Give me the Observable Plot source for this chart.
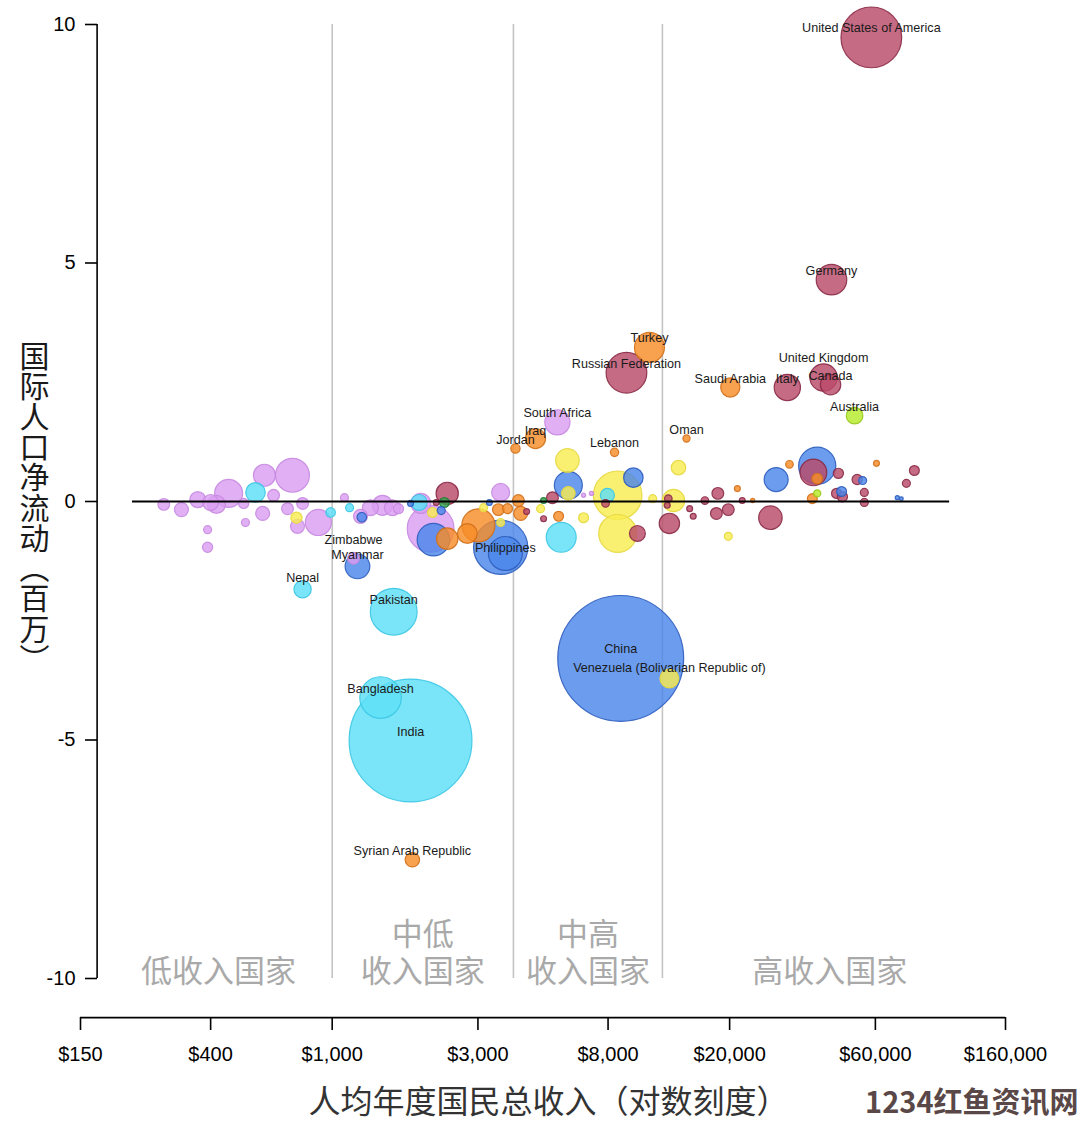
<!DOCTYPE html>
<html>
<head>
<meta charset="utf-8">
<script src="https://cdn.jsdelivr.net/npm/d3@7"></script>
<script src="https://cdn.jsdelivr.net/npm/@observablehq/plot@0.6"></script>
<style>
  html, body { margin: 0; padding: 0; background: #fff; }
  svg { display: block; }
</style>
</head>
<body>
<div id="chart"></div>
<script>
// ---------- data: [country label, GNI per capita (US$), net migration (millions), population (millions)]
const europeNorthAmerica = [
  ["United States of America", 58200, 9.73, 320],
  ["Germany", 43100, 4.65, 81],
  ["Russian Federation", 9190, 2.70, 144],
  ["Italy", 30900, 2.39, 60],
  ["United Kingdom", 40600, 2.60, 65],
  ["Canada", 42800, 2.45, 36],
  ["", 37600, 0.61, 62],
  ["", 27200, -0.34, 48],
  ["", 2380, 0.17, 43],
  ["", 2190, -0.02, 3],
  ["", 4330, -0.21, 3],
  ["", 5260, 0.08, 12],
  ["", 4920, -0.36, 3],
  ["", 7850, -0.04, 5],
  ["", 9980, -0.67, 22],
  ["", 12600, 0.06, 5],
  ["", 12500, -0.08, 3],
  ["", 12700, -0.46, 36],
  ["", 14800, -0.15, 3],
  ["", 15200, -0.31, 3],
  ["", 16600, 0.02, 5],
  ["", 18300, 0.17, 12],
  ["", 18100, -0.25, 12],
  ["", 19800, -0.17, 12],
  ["", 22000, 0.02, 3],
  ["", 45400, 0.59, 9],
  ["", 44800, 0.17, 9],
  ["", 46800, 0.10, 9],
  ["", 52300, 0.46, 9],
  ["", 55200, 0.19, 5.5],
  ["", 55200, -0.02, 5.5],
  ["", 75800, 0.38, 5.5],
  ["", 80500, 0.65, 8.5]
];
const middleEastNorthAfrica = [
  ["Turkey", 10930, 3.23, 78],
  ["Saudi Arabia", 20100, 2.39, 32],
  ["Oman", 14450, 1.32, 4.5],
  ["Lebanon", 8400, 1.03, 6],
  ["Iraq", 4630, 1.32, 35],
  ["Jordan", 3980, 1.11, 7.5],
  ["Syrian Arab Republic", 1830, -7.51, 18],
  ["", 2380, -0.78, 40],
  ["", 3010, -0.50, 95],
  ["", 2770, -0.67, 34],
  ["", 3500, -0.17, 12],
  ["", 3750, -0.15, 8.5],
  ["", 4070, 0.02, 12],
  ["", 4140, -0.25, 17],
  ["", 5510, -0.31, 8.5],
  ["", 21200, 0.27, 3],
  ["", 23800, 0.02, 1.5],
  ["", 31400, 0.78, 5],
  ["", 38700, 0.48, 10],
  ["", 37300, 0.06, 8.5],
  ["", 60500, 0.80, 3]
];
const subSaharanAfrica = [
  ["South Africa", 5460, 1.66, 55],
  ["Zimbabwe", 1175, -1.19, 12],
  ["", 281, -0.06, 12],
  ["", 321, -0.17, 17],
  ["", 363, 0.04, 22],
  ["", 400, -0.02, 22],
  ["", 418, -0.06, 28],
  ["", 458, 0.17, 68],
  ["", 513, -0.04, 9],
  ["", 600, 0.55, 42],
  ["", 741, 0.55, 100],
  ["", 643, 0.13, 12],
  ["", 592, -0.25, 17],
  ["", 520, -0.44, 5.5],
  ["", 391, -0.59, 5.5],
  ["", 391, -0.96, 9],
  ["", 714, -0.15, 12],
  ["", 800, -0.04, 12],
  ["", 770, -0.52, 17],
  ["", 901, -0.44, 59],
  ["", 1097, 0.08, 5.5],
  ["", 1238, -0.31, 17],
  ["", 1334, -0.13, 22],
  ["", 1461, -0.08, 35],
  ["", 1575, -0.13, 22],
  ["", 1648, -0.15, 9],
  ["", 1950, -0.04, 35],
  ["", 2100, -0.57, 190],
  ["", 3560, 0.19, 28],
  ["", 6650, 0.13, 1.5],
  ["", 7060, 0.17, 1.5]
];
const southAsia = [
  ["India", 1805, -5.01, 1310],
  ["Pakistan", 1590, -2.31, 190],
  ["Bangladesh", 1440, -4.11, 150],
  ["Nepal", 800, -1.84, 26],
  ["", 561, 0.19, 33],
  ["", 988, -0.23, 8],
  ["", 1140, -0.13, 5.5],
  ["", 1926, -0.02, 22],
  ["", 5620, -0.75, 78],
  ["", 7960, 0.13, 17]
];
const eastAsiaPacific = [
  ["China", 8800, -3.29, 1376],
  ["Philippines", 3690, -1.09, 100],
  ["", 3560, -0.96, 255],
  ["Myanmar", 1210, -1.36, 53],
  ["", 2145, -0.80, 92],
  ["", 2275, -0.19, 5.5],
  ["", 1805, -0.04, 3],
  ["", 3270, -0.02, 3],
  ["", 5930, 0.34, 68],
  ["", 9680, 0.50, 33],
  ["", 28400, 0.46, 50],
  ["", 38700, 0.75, 120],
  ["", 46500, 0.21, 8.5],
  ["", 54500, 0.44, 5.5],
  ["", 70800, 0.08, 1.5],
  ["", 73000, 0.06, 1.2],
  ["", 1250, -0.33, 8]
];
const latinAmerica = [
  ["Venezuela (Bolivarian Republic of)", 12700, -3.71, 31],
  ["", 764, -0.34, 11],
  ["", 2130, -0.23, 8.5],
  ["", 3130, -0.13, 5.5],
  ["", 3560, -0.44, 5.5],
  ["", 5890, 0.86, 48],
  ["", 5930, 0.17, 16],
  ["", 8600, 0.13, 205],
  ["", 8600, -0.67, 125],
  ["", 6650, -0.34, 8.5],
  ["", 4810, -0.15, 5.5],
  ["", 11200, 0.06, 5.5],
  ["", 13100, 0.02, 43],
  ["", 13600, 0.71, 18],
  ["", 19800, -0.73, 5.5]
];
const oceania = [
  ["Australia", 51300, 1.80, 24],
  ["", 38700, 0.17, 4.5]
];
const other = [
  ["", 2330, -0.02, 8.5],
  ["", 4920, 0.02, 3]
];

const xTicks = [150, 400, 1000, 3000, 8000, 20000, 60000, 160000];
const yTicks = [-10, -5, 0, 5, 10];
const incomeBoundaries = [1000, 3920, 12050];
const incomeGroups = [
  {top: "", bottom: "低收入国家", lo: 180, hi: 1000},
  {top: "中低", bottom: "收入国家", lo: 1000, hi: 3920},
  {top: "中高", bottom: "收入国家", lo: 3920, hi: 12050},
  {top: "", bottom: "高收入国家", lo: 12050, hi: 150000}
];
const zeroLineExtent = [222, 105000];
const yAxisAtX = 170;      // x value where the y axis is drawn
const xAxisAtY = -10.82;   // y value where the x axis is drawn
const yTitle = "国际人口净流动（百万）";
const xTitle = "人均年度国民总收入（对数刻度）";
const watermark = "1234红鱼资讯网";

// ---------- styles
const regionStyle = {
  europe:   {fill: "#b94b69", stroke: "#8a2a46"},
  mena:     {fill: "#f68c28", stroke: "#d2701a"},
  ssa:      {fill: "#da9ef1", stroke: "#c68ae0"},
  sasia:    {fill: "#5ddff7", stroke: "#3cc6e4"},
  eap:      {fill: "#4a86ea", stroke: "#2c5cbc"},
  latam:    {fill: "#f8ec52", stroke: "#e6d840"},
  oceania:  {fill: "#b6ea2a", stroke: "#96c81c"},
  other:    {fill: "#33a04a", stroke: "#1f7a34"}
};
const groups = [
  ["europe", europeNorthAmerica], ["mena", middleEastNorthAfrica], ["ssa", subSaharanAfrica],
  ["sasia", southAsia], ["eap", eastAsiaPacific], ["latam", latinAmerica],
  ["oceania", oceania], ["other", other]
];
const rows = groups.flatMap(([region, arr]) =>
  arr.map(([name, gni, mig, pop]) => ({name, gni, mig, pop, region})));
const labeled = rows.filter(d => d.name);
const labelDy = {"United Kingdom": -20, "Zimbabwe": -18, "Philippines": -6, "Iraq": -8,
  "Myanmar": -11, "Nepal": -11, "Venezuela (Bolivarian Republic of)": -11, "Pakistan": -12};
const dyGroups = d3.group(labeled, d => labelDy[d.name] ?? -9);

const sans = "'Liberation Sans', Arial, Helvetica, sans-serif";
const cjk = "'Noto Sans CJK SC', 'Noto Sans', sans-serif";
const dollar = d => "$" + d3.format(",")(d);

const chart = Plot.plot({
  width: 1080,
  height: 1123,
  marginLeft: 97,
  marginRight: 75,
  marginTop: 24,
  marginBottom: 106,
  style: {fontFamily: sans, background: "#fff", color: "#000"},
  x: {type: "log", domain: [150, 160000], range: [80, 1005]},
  y: {domain: [-10, 10], range: [978, 24]},
  r: {domain: [0, 1400], range: [0, 63.5]},
  color: {type: "identity"},
  marks: [
    // income-group boundaries
    Plot.ruleX(incomeBoundaries, {y1: -10, y2: 10, stroke: "#c4c4c4", strokeWidth: 1.6}),
    // income-group labels
    Plot.text(incomeGroups, {x: d => Math.sqrt(d.lo * d.hi), y: -9.87, text: "bottom",
      fontFamily: cjk, fontSize: 31, fill: "#a9a9a9"}),
    Plot.text(incomeGroups, {x: d => Math.sqrt(d.lo * d.hi), y: -9.10, text: "top",
      fontFamily: cjk, fontSize: 31, fill: "#a9a9a9"}),
    // bubbles
    Plot.dot(rows, {x: "gni", y: "mig", r: "pop",
      fill: d => regionStyle[d.region].fill, fillOpacity: 0.82,
      stroke: d => regionStyle[d.region].stroke, strokeOpacity: 0.9, strokeWidth: 1.2}),
    // zero line
    Plot.ruleY([0], {x1: zeroLineExtent[0], x2: zeroLineExtent[1], stroke: "#000", strokeWidth: 2}),
    // country labels
    ...Array.from(dyGroups, ([dy, arr]) =>
      Plot.text(arr, {x: "gni", y: "mig", text: "name", dy, fontSize: 12.6, fill: "#1a1a1a"})),
    // y axis
    Plot.ruleX([yAxisAtX], {y1: -10, y2: 10, stroke: "#000", strokeWidth: 1.6}),
    Plot.axisY({ticks: yTicks, tickFormat: d => String(d), tickSize: 12, tickPadding: 10,
      fontSize: 20, label: null, strokeWidth: 1.6}),
    // x axis
    Plot.ruleY([xAxisAtY], {x1: xTicks[0], x2: xTicks[xTicks.length - 1], stroke: "#000", strokeWidth: 1.6}),
    Plot.axisX({ticks: xTicks, tickFormat: () => "", tickSize: 13, label: null, strokeWidth: 1.6}),
    Plot.text(xTicks, {x: d => d, frameAnchor: "bottom", dy: 43, text: dollar, fontSize: 20, fill: "#000"}),
    // axis titles
    Plot.text([yTitle], {y: 0.08, frameAnchor: "left", dx: -63, textAnchor: "middle",
      fontFamily: cjk, fontSize: 30, fill: "#1a1a1a"}),
    Plot.text([xTitle], {frameAnchor: "bottom", dx: -3, dy: 95,
      fontFamily: cjk, fontSize: 32, fill: "#333"}),
    Plot.text([watermark], {frameAnchor: "bottom-right", textAnchor: "end", dx: 73, dy: 95,
      fontFamily: cjk, fontWeight: "bold", fontSize: 29, fill: "#5a4848"})
  ]
});
// vertical (upright) writing for the y-axis title
d3.select(chart).selectAll("text")
  .filter(function () { return this.textContent === yTitle; })
  .attr("dy", null)
  .style("writing-mode", "vertical-rl")
  .style("text-orientation", "upright")
  .style("letter-spacing", "0.3px");
document.getElementById("chart").appendChild(chart);
</script>
</body>
</html>
